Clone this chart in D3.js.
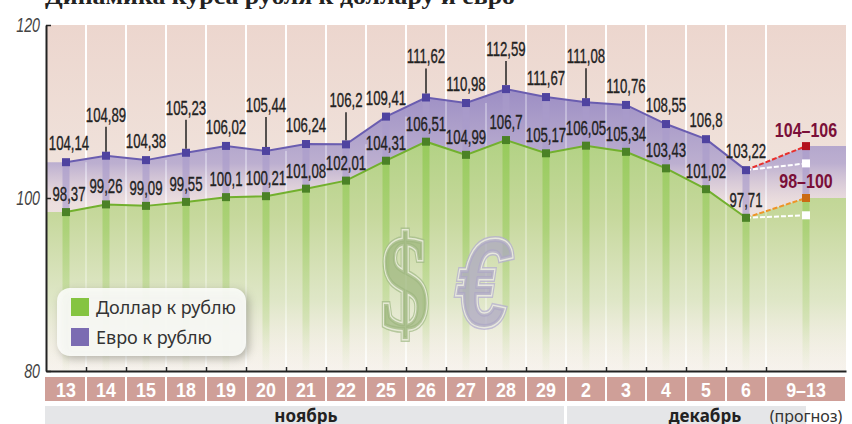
<!DOCTYPE html>
<html>
<head>
<meta charset="utf-8">
<script src="https://cdn.jsdelivr.net/npm/d3@7"></script>
<style>
  html, body { margin: 0; padding: 0; background: #fff; overflow: hidden; }
  svg { display: block; font-family: "Liberation Sans", sans-serif; }
  .val { font-size: 20px; fill: #222; stroke: #222; stroke-width: 0.35px; text-anchor: middle; }
</style>
</head>
<body>
<svg width="852" height="424"></svg>
<script>
// Valeurs
const days = ['13','14','15','18','19','20','21','22','25','26','27','28','29','2','3','4','5','6'];
const usd = [98.37,99.26,99.09,99.55,100.1,100.21,101.08,102.01,104.31,106.51,104.99,106.7,105.17,106.05,105.34,103.43,101.02,97.71];
const eur = [104.14,104.89,104.38,105.23,106.02,105.44,106.24,106.2,109.41,111.62,110.98,112.59,111.67,111.08,110.76,108.55,106.8,103.22];
const usdForecast = [98, 100];
const eurForecast = [104, 106];
const forecastLabel = '9–13';
const yTicks = [80, 100, 120];
const raisedEur = {'14': 34, '18': 38, '20': 39, '22': 37, '26': 34, '28': 33, '2': 39}; // étiquettes avec trait
const months = [
  {nom: 'ноябрь', from: 0, to: 13},
  {nom: 'декабрь', from: 13, to: 19}
];

const svg = d3.select('svg');
const defs = svg.append('defs');

// x en index de colonne : les 18 jours puis la colonne prévision, deux fois plus large
const x = d3.scaleLinear().domain([-0.5, 19.5]).range([46, 846]);
const y = d3.scaleLinear().domain([80, 120]).range([371, 25]);
const xF = 18.5;

// Pas de police étroite installée : on resserre le texte à la main
const squeeze = (px, py, k) => `translate(${px},${py}) scale(${k},1)`;

function gradient(id, stops) {
  const g = defs.append('linearGradient').attr('id', id)
    .attr('gradientUnits', 'userSpaceOnUse')
    .attr('x1', 0).attr('x2', 0).attr('y1', 25).attr('y2', 371);
  stops.forEach(s => g.append('stop')
    .attr('offset', s[0]).attr('stop-color', s[1]).attr('stop-opacity', s[2]));
}
gradient('bg', [[0, '#ecd6ce', 1], [0.45, '#f0e3dc', 1], [1, '#f7f3ee', 1]]);
gradient('violet', [[0.2, '#9a8cc4', 0.95], [0.4, '#b3a6ce', 0.85], [0.52, '#e6d6de', 0.4]]);
gradient('vert', [[0.3, '#acd07c', 0.95], [0.55, '#c6d89c', 1], [0.8, '#dde6c4', 0.9], [1, '#f2efe2', 0.1]]);
gradient('barVert', [[0.3, '#8fc850', 0.85], [0.6, '#a6d070', 0.8], [0.85, '#c4dc9c', 0.55], [1, '#e0e8c8', 0.1]]);

const colX = days.map((d, i) => i);
const chart = svg.append('g');

chart.append('rect')
  .attr('x', x(-0.5)).attr('y', y(120))
  .attr('width', x(19.5) - x(-0.5)).attr('height', y(80) - y(120))
  .attr('fill', 'url(#bg)');

// Séparateurs blancs derrière les aires
const seps = d3.range(0.5, 18, 1);
chart.selectAll('.sep').data(seps).join('line')
  .attr('class', 'sep')
  .attr('x1', d => x(d)).attr('x2', d => x(d))
  .attr('y1', y(120)).attr('y2', y(80))
  .attr('stroke', '#fff').attr('stroke-width', 2);

// Aires
const pts = colX.map(i => ({i, e: eur[i], u: usd[i]}));
const full = [{i: -0.5, e: eur[0], u: usd[0]}, ...pts,
  {i: xF, e: eurForecast[1], u: usdForecast[1]},
  {i: 19.5, e: eurForecast[1], u: usdForecast[1]}];

chart.append('path').datum(full)
  .attr('d', d3.area().x(d => x(d.i)).y0(d => y(d.u)).y1(d => y(d.e)))
  .attr('fill', 'url(#violet)');
chart.append('path').datum(full)
  .attr('d', d3.area().x(d => x(d.i)).y0(y(80)).y1(d => y(d.u)))
  .attr('fill', 'url(#vert)');

// Séparateurs, en léger par dessus les aires
chart.selectAll('.sep2').data(seps).join('line')
  .attr('class', 'sep2')
  .attr('x1', d => x(d)).attr('x2', d => x(d))
  .attr('y1', d => y(eur[Math.floor(d)] + 0)).attr('y2', y(80))
  .attr('stroke', '#fff').attr('stroke-width', 2).attr('stroke-opacity', 0.3);

// Barres verticales sous chaque point
const bars = [...pts, {i: xF, e: eurForecast[1], u: usdForecast[1]}];
chart.selectAll('.barE').data(bars).join('rect')
  .attr('class', 'barE')
  .attr('x', d => x(d.i) - 3.5).attr('width', 7)
  .attr('y', d => y(d.e)).attr('height', d => y(d.u) - y(d.e))
  .attr('fill', '#a99bcb').attr('fill-opacity', 0.65);
chart.selectAll('.barU').data(bars).join('rect')
  .attr('class', 'barU')
  .attr('x', d => x(d.i) - 3.5).attr('width', 7)
  .attr('y', d => y(d.u)).attr('height', d => y(80) - y(d.u))
  .attr('fill', 'url(#barVert)');

// Symboles $ et €
function glyph(t, cx, base, size, kx, family, slant, fill, edge) {
  const draw = () => chart.append('text').text(t)
    .attr('transform', squeeze(cx, base, kx))
    .attr('text-anchor', 'middle')
    .style('font-family', family).style('font-weight', 700).style('font-style', slant)
    .style('font-size', size + 'px');
  draw().attr('fill', 'none').attr('stroke', edge).attr('stroke-width', 6).attr('stroke-opacity', 0.75);
  draw().attr('fill', 'none').attr('stroke', '#eef0e0').attr('stroke-width', 3).attr('stroke-opacity', 0.85);
  draw().attr('fill', fill).attr('fill-opacity', 0.72);
}
glyph('$', 405, 329, 136, 0.72, '"Liberation Serif", serif', 'normal', '#9db57d', '#a3bb88');
glyph('€', 482, 326, 124, 0.78, '"Liberation Sans", sans-serif', 'italic', '#aaa5c0', '#b4aed0');

// Lignes
const lineOf = key => d3.line().x(d => x(d.i)).y(d => y(d[key]));
chart.append('path').datum(pts).attr('d', lineOf('e'))
  .attr('fill', 'none').attr('stroke', '#6a5db0').attr('stroke-width', 2);
chart.append('path').datum(pts).attr('d', lineOf('u'))
  .attr('fill', 'none').attr('stroke', '#72b02e').attr('stroke-width', 2);

// Prévision : lignes en tirets
const last = days.length - 1;
const dashed = [
  {from: eur[last], to: eurForecast[1], c: '#e8302c', m: '#b3121d'},
  {from: eur[last], to: eurForecast[0], c: '#ffffff', m: '#ffffff'},
  {from: usd[last], to: usdForecast[1], c: '#ee9427', m: '#cb6a14'},
  {from: usd[last], to: usdForecast[0], c: '#ffffff', m: '#ffffff'}
];
chart.selectAll('.dash').data(dashed).join('line')
  .attr('class', 'dash')
  .attr('x1', x(last)).attr('y1', d => y(d.from))
  .attr('x2', x(xF)).attr('y2', d => y(d.to))
  .attr('stroke', d => d.c).attr('stroke-width', 2).attr('stroke-dasharray', '5 2');
chart.selectAll('.fm').data(dashed).join('rect')
  .attr('class', 'fm')
  .attr('x', x(xF) - 4).attr('y', d => y(d.to) - 4)
  .attr('width', 8).attr('height', 8)
  .attr('fill', d => d.m);

// Marqueurs
chart.selectAll('.mE').data(pts).join('rect').attr('class', 'mE')
  .attr('x', d => x(d.i) - 4).attr('y', d => y(d.e) - 4)
  .attr('width', 8).attr('height', 8).attr('fill', '#4f43a0');
chart.selectAll('.mU').data(pts).join('rect').attr('class', 'mU')
  .attr('x', d => x(d.i) - 4).attr('y', d => y(d.u) - 4)
  .attr('width', 8).attr('height', 8).attr('fill', '#4b8226');

// Traits des étiquettes relevées
const stemmed = pts.filter(d => raisedEur[days[d.i]]);
chart.selectAll('.stem').data(stemmed).join('line').attr('class', 'stem')
  .attr('x1', d => x(d.i)).attr('x2', d => x(d.i))
  .attr('y1', d => y(d.e) - raisedEur[days[d.i]] + 5)
  .attr('y2', d => y(d.e) - 4)
  .attr('stroke', '#222').attr('stroke-width', 1.5);

// Étiquettes
const fr = v => String(v).replace('.', ',');
const nudge = i => (i === 0 ? 3 : 0);
chart.selectAll('.vE').data(pts).join('text').attr('class', 'val vE')
  .attr('transform', d => squeeze(x(d.i) + nudge(d.i), y(d.e) - (raisedEur[days[d.i]] || 12), 0.66))
  .text(d => fr(d.e));
chart.selectAll('.vU').data(pts).join('text').attr('class', 'val vU')
  .attr('transform', d => squeeze(x(d.i) + nudge(d.i), y(d.u) - 11, 0.66))
  .text(d => fr(d.u));

[[eurForecast, 137], [usdForecast, 188]].forEach(f => {
  chart.append('text').attr('class', 'val')
    .attr('transform', squeeze(x(xF), f[1], 0.8))
    .style('fill', '#7a0f38').style('stroke', 'none').style('font-weight', 700)
    .text(f[0][0] + '–' + f[0][1]);
});

// Axes
const yAxis = svg.append('g').attr('transform', `translate(${x(-0.5)},0)`)
  .call(d3.axisLeft(y).tickValues(yTicks).tickSizeInner(-5).tickSizeOuter(0).tickPadding(6));
const xAxis = svg.append('g').attr('transform', `translate(0,${y(80)})`)
  .call(d3.axisBottom(x).tickValues(seps).tickSizeInner(-4).tickSizeOuter(0).tickFormat(''));
[yAxis, xAxis].forEach(a => {
  a.select('.domain').attr('stroke', '#222').attr('stroke-width', 2);
  a.selectAll('.tick line').attr('stroke', '#222').attr('stroke-width', 1.5);
});
yAxis.selectAll('.tick text')
  .attr('x', 0).attr('transform', squeeze(-6, 0, 0.68))
  .style('font-size', '21px').style('font-style', 'italic').attr('fill', '#444');

// Légende
const legend = svg.append('g');
legend.append('rect')
  .attr('x', 57).attr('y', 288).attr('width', 189).attr('height', 68).attr('rx', 13)
  .attr('fill', '#fbfcf8').attr('fill-opacity', 0.92)
  .style('filter', 'drop-shadow(3px 3px 4px rgba(90,90,80,.45))');
const legendItems = [['Доллар к рублю', '#85c441', 140], ['Евро к рублю', '#7b6cb2', 116]];
legendItems.forEach((d, i) => {
  legend.append('rect').attr('x', 71).attr('y', 298 + i * 30).attr('width', 18).attr('height', 18).attr('fill', d[1]);
  legend.append('text').text(d[0])
    .attr('x', 96).attr('y', 314 + i * 30)
    .attr('textLength', d[2]).attr('lengthAdjust', 'spacingAndGlyphs')
    .style('font-family', '"Noto Sans", sans-serif').style('font-size', '18px').attr('fill', '#333');
});

// Bande des dates
const cells = [...days.map((d, i) => ({t: d, a: i - 0.5, b: i + 0.5})), {t: forecastLabel, a: 17.5, b: 19.5}];
svg.selectAll('.cell').data(cells).join('rect').attr('class', 'cell')
  .attr('x', d => x(d.a) + (d.a === -0.5 ? -1 : 1))
  .attr('width', d => x(d.b) - x(d.a) - (d.a === -0.5 ? 0 : 2))
  .attr('y', 377).attr('height', 24)
  .attr('fill', '#cf9f98');
svg.selectAll('.cellT').data(cells).join('text').attr('class', 'cellT')
  .attr('transform', d => squeeze((x(d.a) + x(d.b)) / 2, 397, 0.85))
  .attr('text-anchor', 'middle')
  .style('font-size', '21px').style('font-weight', 700).attr('fill', '#fff')
  .text(d => d.t);

// Bande des mois
svg.selectAll('.month').data(months).join('rect').attr('class', 'month')
  .attr('x', d => x(d.from - 0.5) + (d.from ? 1 : -1))
  .attr('width', d => x(d.to - 0.5) - x(d.from - 0.5) - 1)
  .attr('y', 406).attr('height', 18).attr('fill', '#e5e6e8');
svg.selectAll('.monthT').data(months).join('text').attr('class', 'monthT')
  .attr('x', (d, i) => i ? 705 : 306).attr('y', 422)
  .attr('text-anchor', 'middle')
  .style('font-family', '"Noto Sans", sans-serif').style('font-size', '17px').style('font-weight', 700).attr('fill', '#222')
  .text(d => d.nom);
svg.append('text').text('(прогноз)')
  .attr('x', 806).attr('y', 422).attr('text-anchor', 'middle')
  .style('font-family', '"Noto Sans", sans-serif').style('font-size', '16px').attr('fill', '#333');

// Titre, coupé par le haut de l'image
svg.append('text').text('Динамика курса рубля к доллару и евро')
  .attr('x', 45).attr('y', 4)
  .attr('textLength', 470).attr('lengthAdjust', 'spacingAndGlyphs')
  .style('font-family', '"Liberation Serif", serif').style('font-weight', 700).style('font-size', '24px')
  .attr('fill', '#222');
</script>
</body>
</html>
